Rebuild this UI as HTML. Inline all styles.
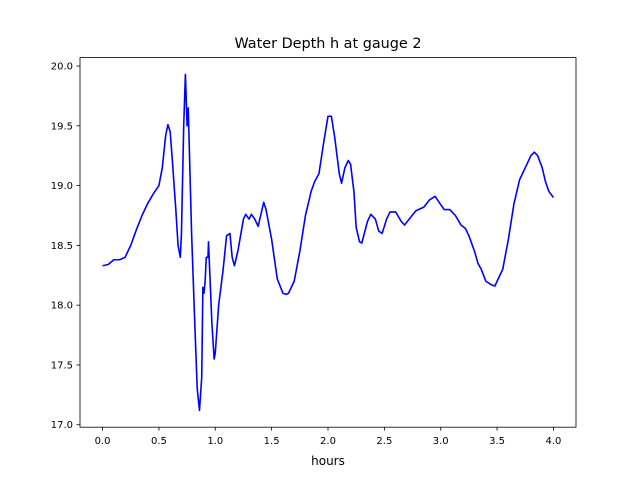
<!DOCTYPE html>
<html><head><meta charset="utf-8"><style>body{margin:0;background:#fff}svg{display:block;font-family:"DejaVu Sans","Liberation Sans",sans-serif}</style></head>
<body>
<svg id="chart" width="640" height="480">
<rect width="640" height="480" fill="#fff"/>
<text x="328" y="48" font-size="14.4" text-anchor="middle">Water Depth h at gauge 2</text>
<g id="ticks"></g>
<path id="line" fill="none" stroke="#0000ff" stroke-width="1.6" stroke-linejoin="round"/>
<rect x="80" y="57.6" width="496" height="369.6" fill="none" stroke="#000" stroke-width="0.8"/>
<text x="328" y="465" font-size="12" text-anchor="middle">hours</text>
</svg>
<script>
const times=[0,0.05,0.1,0.15,0.2,0.25,0.3,0.35,0.4,0.45,0.5,0.53,0.56,0.58,0.6,0.62,0.65,0.67,0.69,0.7,0.72,0.735,0.75,0.76,0.77,0.79,0.82,0.84,0.86,0.88,0.89,0.9,0.91,0.92,0.935,0.94,0.95,0.97,0.99,1.0,1.03,1.07,1.1,1.13,1.15,1.17,1.2,1.25,1.27,1.3,1.32,1.35,1.38,1.41,1.43,1.45,1.5,1.55,1.6,1.63,1.65,1.7,1.75,1.8,1.85,1.88,1.92,1.96,2.0,2.03,2.06,2.1,2.12,2.15,2.18,2.2,2.23,2.25,2.28,2.3,2.35,2.38,2.42,2.45,2.48,2.52,2.55,2.6,2.65,2.68,2.72,2.78,2.85,2.9,2.95,3.0,3.03,3.08,3.13,3.18,3.22,3.25,3.3,3.33,3.36,3.4,3.45,3.48,3.5,3.55,3.6,3.65,3.7,3.75,3.8,3.83,3.86,3.9,3.93,3.96,4.0];
const depths=[18.33,18.34,18.38,18.38,18.40,18.50,18.63,18.75,18.85,18.93,19.0,19.15,19.42,19.51,19.45,19.2,18.8,18.5,18.4,18.6,19.5,19.93,19.5,19.65,19.3,18.6,17.8,17.3,17.12,17.4,18.15,18.1,18.2,18.4,18.4,18.53,18.3,17.85,17.55,17.6,18.0,18.3,18.58,18.6,18.4,18.33,18.45,18.72,18.76,18.72,18.76,18.72,18.66,18.78,18.86,18.8,18.55,18.22,18.1,18.09,18.1,18.2,18.45,18.75,18.95,19.03,19.1,19.35,19.58,19.58,19.4,19.1,19.02,19.15,19.21,19.18,18.95,18.65,18.53,18.52,18.7,18.76,18.72,18.62,18.6,18.72,18.78,18.78,18.7,18.67,18.72,18.79,18.82,18.88,18.91,18.84,18.8,18.8,18.75,18.67,18.64,18.58,18.45,18.35,18.3,18.2,18.17,18.16,18.2,18.3,18.55,18.85,19.05,19.15,19.25,19.28,19.25,19.15,19.03,18.95,18.9];
const xTicks=[0,0.5,1,1.5,2,2.5,3,3.5,4];
const xTickLabels=["0.0","0.5","1.0","1.5","2.0","2.5","3.0","3.5","4.0"];
const yTicks=[17,17.5,18,18.5,19,19.5,20];
const yTickLabels=["17.0","17.5","18.0","18.5","19.0","19.5","20.0"];
const L=80,R=576,T=57.6,B=427.2;
const xmin=-0.2,xmax=4.2;
const dmin=Math.min(...depths),dmax=Math.max(...depths),pad=(dmax-dmin)*0.05;
const ymin=dmin-pad,ymax=dmax+pad;
const sx=v=>L+(v-xmin)/(xmax-xmin)*(R-L);
const sy=v=>B-(v-ymin)/(ymax-ymin)*(B-T);
const NS="http://www.w3.org/2000/svg";
const g=document.getElementById('ticks');
function mk(tag,attrs,txt){const e=document.createElementNS(NS,tag);for(const k in attrs)e.setAttribute(k,attrs[k]);if(txt!==undefined)e.textContent=txt;g.appendChild(e);return e;}
xTicks.forEach((v,i)=>{const x=sx(v);
const t=mk('line',{x1:x,x2:x,y1:B,y2:B+3.5,stroke:'#000','stroke-width':0.8});


const l=mk('text',{x:x,y:B+17,'font-size':10,'text-anchor':'middle'},xTickLabels[i]);

});
yTicks.forEach((v,i)=>{const y=sy(v);
const t=mk('line',{x1:L-3.5,x2:L,y1:y,y2:y,stroke:'#000','stroke-width':0.8});


const l=mk('text',{x:L-7,y:y+3.5,'font-size':10,'text-anchor':'end'},yTickLabels[i]);

});
document.getElementById('line').setAttribute('d',times.map((t,i)=>(i?'L':'M')+sx(t).toFixed(2)+' '+sy(depths[i]).toFixed(2)).join(' '));
</script>
</body></html>
